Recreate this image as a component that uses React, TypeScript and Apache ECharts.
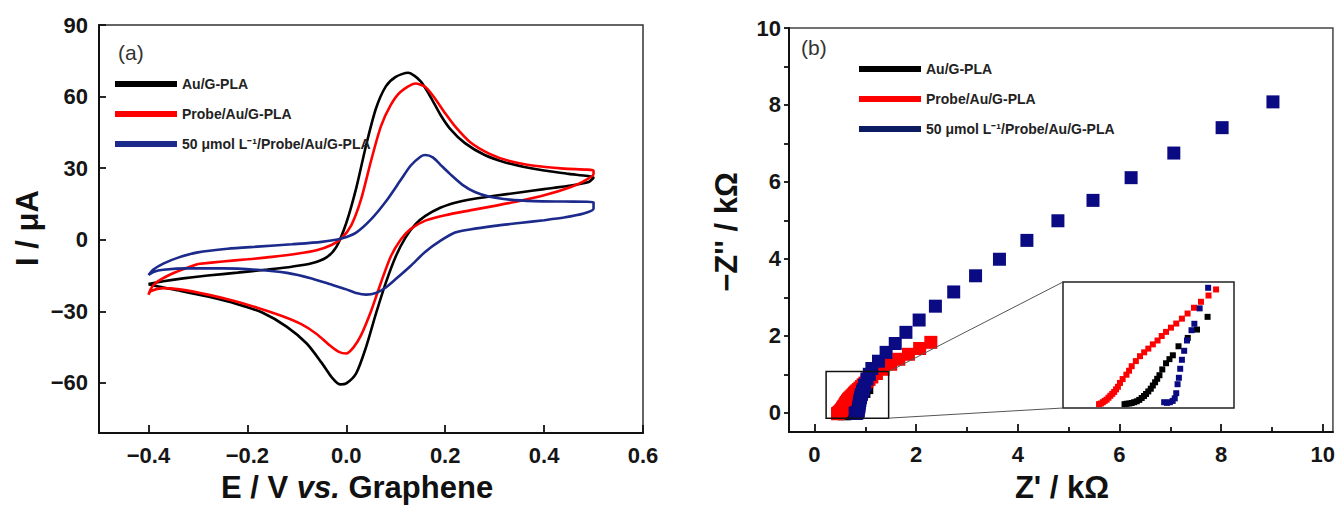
import React, { useEffect, useRef } from "react";
import * as echarts from "echarts";

const FONT = "Liberation Sans, Arial, sans-serif";

const seriesNames = ["Au/G-PLA", "Probe/Au/G-PLA", "50 μmol L⁻¹/Probe/Au/G-PLA"];

// ---- (a) Cyclic voltammograms: [E (V), I (μA)] in scan order ----
const cvBlack: [number, number][] = [
  [-0.40, -18.6], [-0.37, -17.4], [-0.33, -16.2], [-0.28, -15.0], [-0.22, -13.8], [-0.16, -12.5],
  [-0.11, -11.3], [-0.07, -9.9], [-0.04, -7.4], [-0.02, -3.0], [0.0, 7], [0.02, 21.5], [0.04, 39.5],
  [0.06, 55], [0.08, 64.3], [0.10, 68.3], [0.125, 70], [0.15, 66.5], [0.17, 60], [0.19, 52.5],
  [0.21, 46.5], [0.24, 40.5], [0.28, 35.5], [0.32, 32.5], [0.36, 30.5], [0.40, 29], [0.45, 27.6],
  [0.50, 26],
  [0.49, 24.2], [0.45, 22.6], [0.40, 21.2], [0.35, 19.8], [0.30, 18.4], [0.25, 16.9], [0.22, 15.5],
  [0.19, 13.4], [0.16, 10], [0.14, 6.5], [0.12, 1], [0.10, -7], [0.08, -18], [0.06, -31], [0.04, -45],
  [0.02, -56], [0.0, -60.2], [-0.013, -60.6], [-0.03, -57.5], [-0.05, -51.5], [-0.08, -43.5],
  [-0.12, -36.5], [-0.17, -30.5], [-0.22, -27], [-0.28, -23.8], [-0.34, -21.2], [-0.38, -19.6], [-0.40, -18.6],
];

const cvRed: [number, number][] = [
  [-0.30, -10.2], [-0.25, -9.1], [-0.20, -8.2], [-0.15, -7.2], [-0.10, -5.9], [-0.06, -4.4], [-0.03, -2.2],
  [-0.01, 0.5], [0.01, 6], [0.03, 17], [0.05, 33], [0.07, 47.5], [0.09, 56.5], [0.11, 62], [0.14, 65.5],
  [0.16, 64], [0.18, 59], [0.20, 53], [0.22, 47.5], [0.25, 41], [0.29, 36], [0.33, 33], [0.38, 31],
  [0.44, 29.8], [0.50, 29],
  [0.50, 27.5], [0.48, 24.5], [0.45, 21.8], [0.40, 18.6], [0.35, 16.2], [0.30, 14.2], [0.25, 12.3],
  [0.20, 10.3], [0.16, 8], [0.13, 4.5], [0.11, 0], [0.09, -7], [0.07, -18], [0.05, -30], [0.03, -40],
  [0.015, -45], [0.0, -47.7], [-0.015, -47], [-0.035, -44], [-0.06, -39.5], [-0.09, -35.5], [-0.13, -32],
  [-0.18, -28.5], [-0.23, -25.5], [-0.28, -23], [-0.33, -21], [-0.37, -20.3], [-0.395, -21.5], [-0.40, -23],
  [-0.395, -20.5], [-0.385, -18], [-0.36, -15], [-0.33, -12.4], [-0.30, -10.2],
];

const cvBlue: [number, number][] = [
  [-0.40, -14.8], [-0.39, -12.5], [-0.37, -10], [-0.34, -7.5], [-0.30, -5.3], [-0.24, -3.8], [-0.18, -2.9],
  [-0.11, -1.9], [-0.05, -0.9], [-0.01, 0.5], [0.02, 3], [0.05, 8.5], [0.08, 16], [0.11, 25], [0.13, 31],
  [0.15, 34.8], [0.16, 35.5], [0.175, 34.5], [0.19, 31.5], [0.21, 27.5], [0.235, 23], [0.26, 20],
  [0.29, 18], [0.33, 16.8], [0.38, 16.2], [0.44, 16], [0.50, 15.8],
  [0.50, 13], [0.48, 11], [0.44, 9.3], [0.40, 8.2], [0.35, 7], [0.30, 5.8], [0.25, 4.3], [0.22, 3.0],
  [0.19, -0.5], [0.16, -5], [0.13, -11], [0.10, -16.5], [0.08, -20], [0.06, -22.3], [0.04, -23],
  [0.02, -22.3], [0.0, -20.8], [-0.03, -18.8], [-0.07, -16.2], [-0.12, -13.9], [-0.18, -12.6],
  [-0.25, -12], [-0.32, -12], [-0.37, -12.6], [-0.39, -13.5], [-0.40, -14.8],
];

// ---- (b) Nyquist plots: [Z' (kΩ), -Z'' (kΩ)] ----
const eisBlack: [number, number][] = [
  [0.59, -0.025], [0.602, -0.022], [0.615, -0.02], [0.628, -0.016], [0.641, -0.01], [0.655, -0.003],
  [0.668, 0.008], [0.681, 0.023], [0.693, 0.038], [0.704, 0.054], [0.716, 0.074], [0.729, 0.095],
  [0.74, 0.12], [0.752, 0.145], [0.763, 0.172], [0.775, 0.2], [0.79, 0.245], [0.81, 0.293],
  [0.828, 0.325], [0.846, 0.355], [0.876, 0.425], [0.925, 0.49], [0.974, 0.555], [1.03, 0.654],
];

const eisRed: [number, number][] = [
  [0.455, -0.025], [0.465, -0.02], [0.475, -0.01], [0.485, 0.0], [0.495, 0.01], [0.505, 0.025],
  [0.515, 0.04], [0.525, 0.055], [0.535, 0.07], [0.545, 0.09], [0.555, 0.11], [0.566, 0.14],
  [0.58, 0.17], [0.60, 0.204], [0.614, 0.235], [0.628, 0.27], [0.65, 0.31], [0.672, 0.348],
  [0.694, 0.378], [0.716, 0.407], [0.74, 0.44], [0.765, 0.47], [0.787, 0.505], [0.81, 0.537],
  [0.836, 0.57], [0.864, 0.602], [0.894, 0.64], [0.924, 0.68], [0.958, 0.725], [0.995, 0.771],
  [1.035, 0.82], [1.075, 0.867], [1.13, 0.93], [1.22, 1.02], [1.35, 1.13], [1.5, 1.26], [1.66, 1.39],
  [1.85, 1.52], [2.07, 1.67], [2.29, 1.83],
];

const eisBlue: [number, number][] = [
  [0.80, -0.01], [0.815, -0.015], [0.83, -0.01], [0.845, 0.0], [0.856, 0.02], [0.864, 0.06],
  [0.871, 0.13], [0.878, 0.18], [0.885, 0.25], [0.894, 0.32], [0.906, 0.39], [0.921, 0.47],
  [0.945, 0.55], [0.96, 0.6], [0.988, 0.72], [1.033, 0.88], [1.08, 1.0], [1.13, 1.15], [1.26, 1.34],
  [1.41, 1.57], [1.59, 1.8], [1.8, 2.09], [2.06, 2.41], [2.38, 2.77], [2.74, 3.14], [3.17, 3.56],
  [3.64, 3.99], [4.18, 4.48], [4.79, 4.99], [5.48, 5.52], [6.23, 6.11], [7.07, 6.75], [8.02, 7.41],
  [9.02, 8.08],
];

// axis ticks
const cvXTicks = [-0.4, -0.2, 0, 0.2, 0.4, 0.6];
const cvYTicks = [-60, -30, 0, 30, 60, 90];
const eisXMajor = [0, 2, 4, 6, 8, 10];
const eisXMinor = [1, 3, 5, 7, 9];
const eisYLabels = [0, 2, 4, 6, 8, 10];
const eisYTicks = [0, 1, 2, 3, 4, 5, 6, 7, 8, 9, 10];

// magnified region shown in the inset
const zoomX = [0.23, 1.46];
const zoomY = [-0.14, 1.07];
const insetX = [0.264, 1.17];
const insetY = [-0.055, 0.925];

const cvColors = ["#000000", "#ff0000", "#1c2a8c"];
const eisColors = ["#000000", "#ff0000", "#0a0a82"];
const legendColorsB = ["#000000", "#ff0000", "#0d1c60"];

const minus = (v: number, d: number) => (v < 0 ? "−" : "") + Math.abs(v).toFixed(d);

export default function App() {
  const ref = useRef<HTMLDivElement>(null);
  useEffect(() => {
    if (!ref.current) return;
    const chart = echarts.init(ref.current, null, { renderer: "svg" });
    const tickLabel = { fontFamily: FONT, fontSize: 22, fontWeight: "bold" as const, color: "#151515" };
    const axisLine = { show: true, onZero: false, lineStyle: { color: "#111", width: 2 } };
    const tickLine = { color: "#111", width: 1.8 };

    const legendBase = {
      orient: "vertical" as const,
      icon: "rect",
      itemWidth: 62,
      itemHeight: 6,
      itemGap: 14,
      selectedMode: false,
      textStyle: { fontFamily: FONT, fontSize: 14, fontWeight: "bold" as const, color: "#222", lineHeight: 16 },
    };

    const option: any = {
      animation: false,
      backgroundColor: "#ffffff",
      grid: [
        { left: 99, top: 25, width: 544, height: 408, show: true, borderColor: "#333", borderWidth: 1.5 },
        { left: 789, top: 28, width: 547, height: 404, show: true, borderColor: "#444", borderWidth: 1.5 },
        { left: 1063, top: 282, width: 171, height: 126, show: true, borderColor: "#222", borderWidth: 1.5, backgroundColor: "#ffffff" },
      ],
      xAxis: [
        {
          gridIndex: 0, type: "value", min: -0.5, max: 0.6,
          axisLine, splitLine: { show: false },
          axisTick: { show: true, inside: true, length: 8, lineStyle: tickLine, customValues: cvXTicks },
          axisLabel: { ...tickLabel, margin: 11, customValues: cvXTicks, formatter: (v: number) => minus(v, 1) },
        },
        {
          gridIndex: 1, type: "value", min: -0.5, max: 10.2, position: "bottom",
          axisLine, splitLine: { show: false },
          axisTick: { show: true, inside: true, length: 8, lineStyle: tickLine, customValues: eisXMajor },
          axisLabel: { ...tickLabel, margin: 11, customValues: eisXMajor, formatter: (v: number) => String(v) },
        },
        {
          gridIndex: 1, type: "value", min: -0.5, max: 10.2, position: "bottom",
          axisLine: { show: false, onZero: false }, splitLine: { show: false }, axisLabel: { show: false },
          axisTick: { show: true, inside: true, length: 5, lineStyle: tickLine, customValues: eisXMinor },
        },
        { gridIndex: 2, type: "value", min: insetX[0], max: insetX[1], show: false },
      ],
      yAxis: [
        {
          gridIndex: 0, type: "value", min: -81, max: 90,
          axisLine, splitLine: { show: false },
          axisTick: { show: true, inside: true, length: 7, lineStyle: tickLine, customValues: cvYTicks },
          axisLabel: { ...tickLabel, margin: 11, customValues: cvYTicks, formatter: (v: number) => minus(v, 0) },
        },
        {
          gridIndex: 1, type: "value", min: -0.5, max: 10,
          axisLine, splitLine: { show: false },
          axisTick: { show: true, inside: false, length: 5, lineStyle: tickLine, customValues: eisYTicks },
          axisLabel: { ...tickLabel, margin: 8, customValues: eisYLabels, formatter: (v: number) => String(v) },
        },
        { gridIndex: 2, type: "value", min: insetY[0], max: insetY[1], show: false },
      ],
      legend: [
        {
          ...legendBase, left: 110, top: 71,
          data: seriesNames.map((n, i) => ({ name: n, itemStyle: { color: cvColors[i] } })),
        },
        {
          ...legendBase, left: 854, top: 56,
          data: seriesNames.map((n, i) => ({ name: n, itemStyle: { color: legendColorsB[i] } })),
        },
      ],
      series: [
        ...[cvBlack, cvRed, cvBlue].map((d, i) => ({
          name: seriesNames[i], type: "line", xAxisIndex: 0, yAxisIndex: 0, data: d,
          showSymbol: false, smooth: 0.25, z: 3,
          lineStyle: { color: cvColors[i], width: 2.6 }, itemStyle: { color: cvColors[i] },
        })),
        ...[eisBlack, eisRed, eisBlue].map((d, i) => ({
          name: seriesNames[i], type: "scatter", xAxisIndex: 1, yAxisIndex: 1, data: d,
          symbol: "rect", symbolSize: 13, z: 3 + i,
          itemStyle: { color: eisColors[i], opacity: 1 },
        })),
        ...[eisBlack, eisRed, eisBlue].map((d, i) => ({
          name: seriesNames[i], type: "scatter", xAxisIndex: 3, yAxisIndex: 2, data: d,
          symbol: "rect", symbolSize: 6, z: 10 + i, clip: true,
          itemStyle: { color: eisColors[i], opacity: 1 },
        })),
      ],
    };
    chart.setOption(option);

    const tl = chart.convertToPixel({ xAxisIndex: 1, yAxisIndex: 1 }, [zoomX[0], zoomY[1]]) as number[];
    const br = chart.convertToPixel({ xAxisIndex: 1, yAxisIndex: 1 }, [zoomX[1], zoomY[0]]) as number[];
    const itl = chart.convertToPixel({ xAxisIndex: 3, yAxisIndex: 2 }, [insetX[0], insetY[1]]) as number[];
    const ibl = chart.convertToPixel({ xAxisIndex: 3, yAxisIndex: 2 }, [insetX[0], insetY[0]]) as number[];

    const titleFont = { fontFamily: FONT, fontSize: 31, fontWeight: "bold", fill: "#111" };
    const graphic: any[] = [
      { type: "text", x: 118, y: 52, z: 50, style: { text: "(a)", fontFamily: FONT, fontSize: 21, fill: "#333", textVerticalAlign: "middle" } },
      { type: "text", x: 801, y: 47, z: 50, style: { text: "(b)", fontFamily: FONT, fontSize: 21, fill: "#333", textVerticalAlign: "middle" } },
      {
        type: "text", x: 357, y: 487, z: 50,
        style: {
          text: "{n|E / V }{i|vs.}{n| Graphene}", textAlign: "center", textVerticalAlign: "middle",
          rich: { n: { ...titleFont }, i: { ...titleFont, fontStyle: "italic" } },
        },
      },
      { type: "text", x: 27, y: 228, rotation: Math.PI / 2, z: 50, style: { text: "I / μA", ...titleFont, textAlign: "center", textVerticalAlign: "middle" } },
      { type: "text", x: 1062, y: 487, z: 50, style: { text: "Z' / kΩ", ...titleFont, textAlign: "center", textVerticalAlign: "middle" } },
      { type: "text", x: 726, y: 232, rotation: Math.PI / 2, z: 50, style: { text: "−Z'' / kΩ", ...titleFont, textAlign: "center", textVerticalAlign: "middle" } },
      {
        type: "rect", z: 40, shape: { x: tl[0], y: tl[1], width: br[0] - tl[0], height: br[1] - tl[1] },
        style: { fill: "none", stroke: "#111", lineWidth: 1.5 },
      },
      { type: "line", z: 40, shape: { x1: br[0], y1: tl[1], x2: itl[0], y2: itl[1] }, style: { stroke: "#555", lineWidth: 1 } },
      { type: "line", z: 40, shape: { x1: br[0], y1: br[1], x2: ibl[0], y2: ibl[1] }, style: { stroke: "#555", lineWidth: 1 } },
    ];
    chart.setOption({ graphic }, { replaceMerge: ["graphic"] });

    return () => chart.dispose();
  }, []);

  return (
    <div
      ref={ref}
      style={{ position: "fixed", left: 0, top: 0, width: 1338, height: 507, background: "#ffffff" }}
    />
  );
}
